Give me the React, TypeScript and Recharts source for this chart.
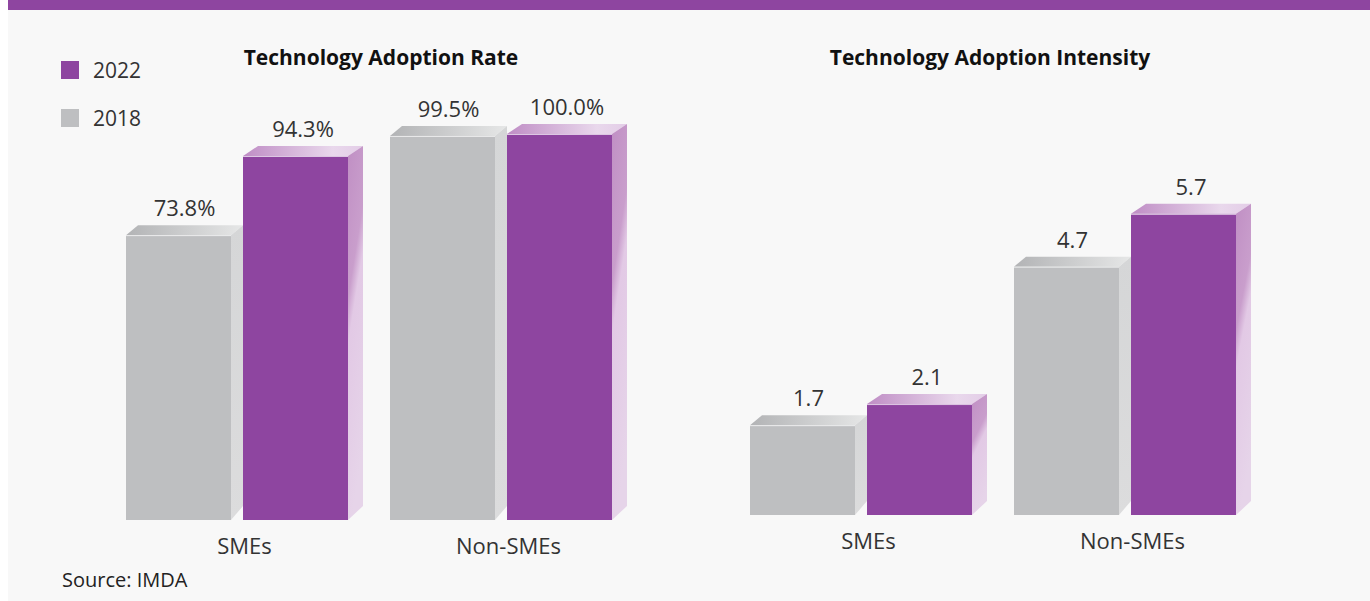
import { BarChart, Bar, XAxis, YAxis, LabelList, Legend } from 'recharts';

const categories = ['SMEs', 'Non-SMEs'];
const seriesNames = ['2018', '2022'];
const rate2018 = [73.8, 99.5];
const rate2022 = [94.3, 100.0];
const intensity2018 = [1.7, 4.7];
const intensity2022 = [2.1, 5.7];

const PURPLE = '#8e45a0';
const GRAY = '#bebfc1';
const TEXT = '#333333';
const FONT = '"Open Sans", sans-serif';
const DY = 10; // vertical depth of the fake 3D top face

const rateData = categories.map((name, i) => ({ name, y2018: rate2018[i], y2022: rate2022[i] }));
const intensityData = categories.map((name, i) => ({ name, y2018: intensity2018[i], y2022: intensity2022[i] }));

const depthOf = (kind: string) => (kind === 'purple' ? 15 : 12);

// draws front, top and side faces of a bar
function Bar3D(props: any) {
  const { x, y, width, height, kind } = props;
  if (!height) return null;
  const dx = depthOf(kind);
  const bottom = y + height;
  const front = kind === 'purple' ? PURPLE : GRAY;
  return (
    <g>
      <defs>
        <linearGradient id="grayTop" x1="0" y1="0" x2="1" y2="0">
          <stop offset="0" stopColor="#b2b3b5" />
          <stop offset="1" stopColor="#e6e7e7" />
        </linearGradient>
        <linearGradient id="graySide" x1="0" y1="0" x2="0" y2="1">
          <stop offset="0" stopColor="#d5d6d7" />
          <stop offset="1" stopColor="#dcdcdd" />
        </linearGradient>
        <linearGradient id="purpleTop" x1="0" y1="0" x2="1" y2="0">
          <stop offset="0" stopColor="#bf8dc5" />
          <stop offset="0.75" stopColor="#e9d8ec" />
          <stop offset="1" stopColor="#e3cde7" />
        </linearGradient>
        <linearGradient id="purpleSide" x1="0" y1="0" x2="0.25" y2="1">
          <stop offset="0" stopColor="#c08fc4" />
          <stop offset="0.38" stopColor="#c99ecc" />
          <stop offset="0.5" stopColor="#e2c9e5" />
          <stop offset="1" stopColor="#e6d4e9" />
        </linearGradient>
      </defs>
      <polygon
        points={`${x},${y} ${x + dx},${y - DY} ${x + width + dx},${y - DY} ${x + width},${y}`}
        fill={`url(#${kind}Top)`}
      />
      <polygon
        points={`${x + width},${y} ${x + width + dx},${y - DY} ${x + width + dx},${bottom - DY - 4} ${x + width},${bottom}`}
        fill={`url(#${kind}Side)`}
      />
      <rect x={x} y={y} width={width} height={height} fill={front} />
      <line x1={x} y1={y + 0.5} x2={x + width} y2={y + 0.5} stroke="#ffffff" strokeOpacity={0.7} />
    </g>
  );
}

const valueLabel = (kind: string, fmt: (v: number) => string) => (p: any) => {
  const x = Number(p.x);
  const y = Number(p.y);
  const width = Number(p.width);
  return (
    <text
      x={x + (width + depthOf(kind)) / 2}
      y={y - DY - 9}
      textAnchor="middle"
      fontFamily={FONT}
      fontSize={22}
      fill={TEXT}
    >
      {fmt(Number(p.value))}
    </text>
  );
};

const renderTick = (p: any) => (
  <text x={p.x + 7.5} y={p.y + 34} textAnchor="middle" fontFamily={FONT} fontSize={22} fill={TEXT}>
    {p.payload.value}
  </text>
);

const renderLegend = (p: any) => {
  const items = [...(p.payload || [])].reverse();
  return (
    <div>
      {items.map((it: any) => (
        <div key={it.value} style={{ display: 'flex', alignItems: 'center', height: 48 }}>
          <span style={{ width: 18, height: 18, background: it.color, display: 'inline-block' }} />
          <span style={{ marginLeft: 14, fontFamily: FONT, fontSize: 21, color: TEXT }}>{it.value}</span>
        </div>
      ))}
    </div>
  );
};

const fmtRate = (v: number) => `${v.toFixed(1)}%`;
const fmtIntensity = (v: number) => v.toFixed(1);

function Panel({ data, domain, margin, fmt, legend }: any) {
  return (
    <BarChart width={legend ? 680 : 690} height={601} data={data} margin={margin} barSize={105} barGap={12}>
      <XAxis dataKey="name" axisLine={false} tickLine={false} tickSize={0} tickMargin={0} height={30} tick={renderTick} interval={0} />
      <YAxis hide domain={domain} />
      {legend && (
        <Legend
          layout="horizontal"
          verticalAlign="middle"
          align="center"
          content={renderLegend}
          wrapperStyle={{ position: 'absolute', left: 61, top: 46, width: 140, height: 100 }}
        />
      )}
      <Bar dataKey="y2018" name={seriesNames[0]} fill={GRAY} isAnimationActive={false} shape={(p: any) => <Bar3D {...p} kind="gray" />}>
        <LabelList dataKey="y2018" content={valueLabel('gray', fmt)} />
      </Bar>
      <Bar dataKey="y2022" name={seriesNames[1]} fill={PURPLE} isAnimationActive={false} shape={(p: any) => <Bar3D {...p} kind="purple" />}>
        <LabelList dataKey="y2022" content={valueLabel('purple', fmt)} />
      </Bar>
    </BarChart>
  );
}

const titleStyle: any = {
  position: 'absolute',
  top: 43,
  width: 420,
  textAlign: 'center',
  fontFamily: FONT,
  fontWeight: 700,
  fontSize: 21,
  color: '#111111',
};

export default function App() {
  return (
    <div style={{ position: 'absolute', left: 0, top: 0, width: 1370, height: 601, background: '#ffffff', overflow: 'hidden' }}>
      <div style={{ position: 'absolute', left: 8, top: 0, width: 1362, height: 601, background: '#f8f8f8' }} />
      <div style={{ position: 'absolute', left: 8, top: 0, width: 1362, height: 10, background: PURPLE }} />
      <div style={{ ...titleStyle, left: 381 - 210 }}>Technology Adoption Rate</div>
      <div style={{ ...titleStyle, left: 990 - 210 }}>Technology Adoption Intensity</div>
      <div style={{ position: 'absolute', left: 0, top: 0 }}>
        <Panel data={rateData} domain={[0, 100]} margin={{ top: 134, right: 47, bottom: 51, left: 105 }} fmt={fmtRate} legend />
      </div>
      <div style={{ position: 'absolute', left: 680, top: 0 }}>
        <Panel data={intensityData} domain={[0, 6]} margin={{ top: 198, right: 113, bottom: 56, left: 49 }} fmt={fmtIntensity} />
      </div>
      <div style={{ position: 'absolute', left: 62, top: 566, fontFamily: FONT, fontSize: 20, color: '#222222' }}>Source: IMDA</div>
    </div>
  );
}
